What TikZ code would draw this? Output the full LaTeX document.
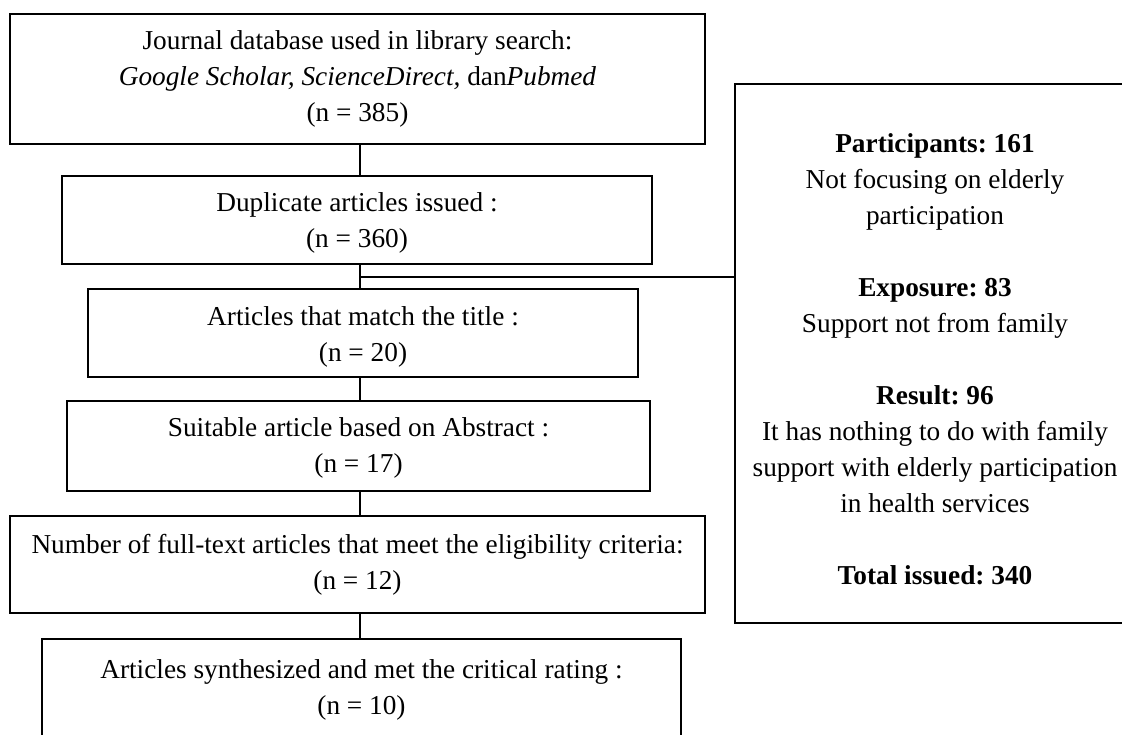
\documentclass[tikz,border=0pt]{standalone}
\usepackage{fontspec}
\setmainfont{Liberation Serif}
\frenchspacing
% taller first line to lower a text block inside its box
\newcommand{\lowerby}[1]{\rule{0pt}{\dimexpr 18.5pt+2\dimexpr #1\relax\relax}}
\begin{document}
\begin{tikzpicture}[x=1pt,y=-1pt,
  boxline/.style={draw=black,line width=2pt},
  stagebox/.style={boxline,rectangle,inner sep=0pt,align=center,
    font=\fontsize{27.3}{36}\selectfont\frenchspacing},
  link/.style={draw=black,line width=2pt}]
\useasboundingbox (0,0) rectangle (1122,735);
\begin{scope}
\clip (0,0) rectangle (1122,735);

% main flow of the screening stages
\node[stagebox,minimum width=695pt,minimum height=130pt] (db) at (357.5,79)
  {Journal database used in library search:\\
   \textit{Google Scholar, ScienceDirect,} dan\textit{Pubmed}\\
   (n = 385)};
\node[stagebox,minimum width=590pt,minimum height=88pt] (dup) at (357,220)
  {\lowerby{3pt}Duplicate articles issued :\\(n = 360)};
\node[stagebox,minimum width=550pt,minimum height=88pt] (title) at (363,333)
  {\lowerby{4pt}Articles that match the title :\\(n = 20)};
\node[stagebox,minimum width=583pt,minimum height=90pt] (abs) at (358.5,446)
  {\lowerby{2pt}Suitable article based on Abstract :\\(n = 17)};
\node[stagebox,minimum width=695pt,minimum height=97pt] (full) at (357.5,564.5)
  {Number of full-text articles that meet the eligibility criteria:\\(n = 12)};
\node[stagebox,minimum width=639pt,minimum height=102pt] (final) at (361.5,690)
  {Articles synthesized and met the critical rating :\\(n = 10)};

% exclusion summary on the right
\node[stagebox,minimum width=400pt,minimum height=539pt] (excl) at (935,353.5)
  {\lowerby{6pt}\textbf{Participants: 161}\\
   Not focusing on elderly\\
   participation\\[36pt]
   \textbf{Exposure: 83}\\
   Support not from family\\[36pt]
   \textbf{Result: 96}\\
   It has nothing to do with family\\
   support with elderly participation\\
   in health services\\[36pt]
   \textbf{Total issued: 340}};

% vertical spine joining the stages
\coordinate (spine) at (360,0);
\draw[link] (db.south -| spine) -- (dup.north -| spine);
\draw[link] (dup.south -| spine) -- (title.north -| spine);
\draw[link] (title.south -| spine) -- (abs.north -| spine);
\draw[link] (abs.south -| spine) -- (full.north -| spine);
\draw[link] (full.south -| spine) -- (final.north -| spine);

% branch to the exclusion box
\coordinate (branch) at (360,277);
\draw[link] (branch) -- (branch -| excl.west);
\end{scope}
\end{tikzpicture}
\end{document}
